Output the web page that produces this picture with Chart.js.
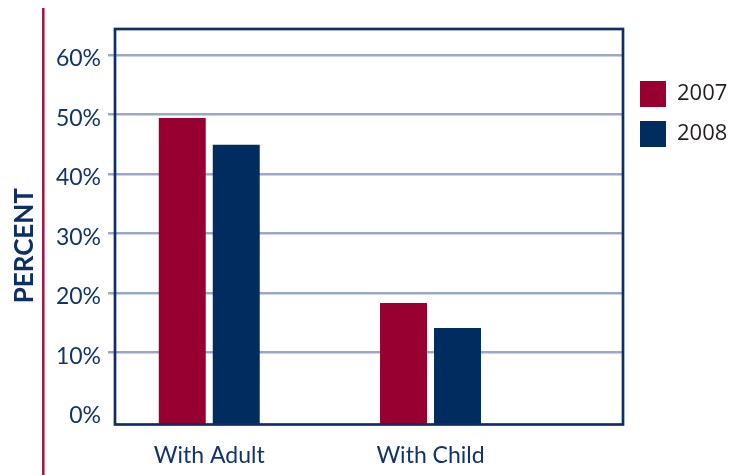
<!DOCTYPE html>
<html>
<head>
<meta charset="utf-8">
<script src="https://cdn.jsdelivr.net/npm/chart.js@4/dist/chart.umd.min.js"></script>
<style>
  html, body { margin: 0; padding: 0; background: #fff; }
  #wrap { width: 729px; height: 475px; }
</style>
</head>
<body>
<div id="wrap"><canvas id="myChart" width="729" height="475"></canvas></div>
<script>
const categories = ['With Adult', 'With Child']
const years = ['2007', '2008']
const values2007 = [49.4, 18.3]
const values2008 = [44.9, 14.1]
const yTicks = [0, 10, 20, 30, 40, 50, 60]
const yMin = -2.14, yMax = 64.38

const red = '#970030', navy = '#002c5f', ink = '#13346b', grid = '#9ca8c8'

const pts = vals => vals.map((v, i) => ({ x: i, y: v }))

const decor = {
  id: 'decor',
  afterLayout(chart) {
    const l = chart.legend
    l.left += 3; l.right += 3
    l.top += 38; l.bottom += 38
  },
  beforeDraw(chart) {
    const c = chart.ctx
    c.save()
    c.fillStyle = '#fff'
    c.fillRect(0, 0, chart.width, chart.height)
    c.strokeStyle = '#a3123e'
    c.lineWidth = 2.5
    c.beginPath()
    c.moveTo(43.3, 8)
    c.lineTo(43.3, chart.height)
    c.stroke()
    c.restore()
  },
  afterDatasetsDraw(chart) {
    const { left, top, right, bottom } = chart.chartArea
    const c = chart.ctx
    c.save()
    c.strokeStyle = '#0d2f66'
    c.lineWidth = 2.7
    c.strokeRect(left, top, right - left, bottom - top)
    c.restore()
  }
}

new Chart(document.getElementById('myChart'), {
  type: 'bar',
  data: {
    datasets: [
      { label: years[0], data: pts(values2007), backgroundColor: red, base: yMin },
      { label: years[1], data: pts(values2008), backgroundColor: navy, base: yMin }
    ]
  },
  options: {
    responsive: false,
    animation: false,
    categoryPercentage: 0.488,
    barPercentage: 0.87,
    layout: { padding: { top: 29, left: 6, right: 0, bottom: 0 } },
    plugins: {
      tooltip: { enabled: false },
      legend: {
        position: 'right',
        align: 'start',
        maxWidth: 106,
        labels: {
          boxWidth: 26, boxHeight: 26, padding: 14,
          color: '#231f20',
          font: { family: 'Open Sans', size: 22 }
        }
      }
    },
    scales: {
      x: {
        type: 'linear',
        offset: false,
        min: -0.426, max: 1.870,
        afterBuildTicks: s => { s.ticks = categories.map((c, i) => ({ value: i })) },
        afterFit: s => { s.height = 50.5 },
        grid: { display: false, offset: false },
        border: { display: false },
        ticks: {
          padding: 9,
          color: ink,
          font: { family: 'Lato', size: 23 },
          callback: v => categories[v]
        }
      },
      y: {
        min: yMin, max: yMax,
        afterBuildTicks: s => { s.ticks = yTicks.map(v => ({ value: v })) },
        afterFit: s => { s.width = 109 },
        border: { display: false },
        grid: {
          color: c => c.tick && c.tick.value === 0 ? 'rgba(0,0,0,0)' : grid,
          lineWidth: 2.5,
          tickLength: 7
        },
        ticks: {
          padding: 7,
          labelOffset: 4,
          color: ink,
          font: { family: 'Lato', size: 23 },
          callback: v => v + '%'
        },
        title: {
          display: true,
          text: 'PERCENT      ',
          color: '#0d2f66',
          padding: { top: 3, bottom: 0 },
          font: { family: 'Lato', size: 26, weight: 'bold' }
        }
      }
    }
  },
  plugins: [decor]
})
</script>
</body>
</html>
